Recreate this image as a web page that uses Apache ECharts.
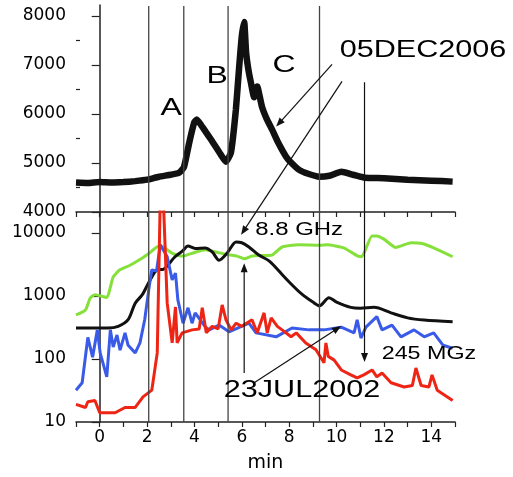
<!DOCTYPE html>
<html>
<head>
<meta charset="utf-8">
<script src="https://cdn.jsdelivr.net/npm/echarts@6/dist/echarts.min.js"></script>
<style>
  html, body { margin: 0; padding: 0; background: #fff; }
  #chart { width: 513px; height: 477px; }
</style>
</head>
<body>
<div id="chart"></div>
<script>
// Upper panel: 05DEC2006 flux profile (linear scale)
const topTime = [-1, -0.5, 0, 0.5, 1, 1.5, 2, 2.5, 3, 3.35, 3.56, 3.78, 3.99, 4.1, 4.3, 4.5, 4.7, 4.9, 5.1, 5.33, 5.54, 5.75, 5.88, 6.0, 6.1, 6.18, 6.28, 6.38, 6.52, 6.65, 6.85, 7.05, 7.28, 7.5, 7.87, 8.1, 8.42, 8.8, 9.26, 9.7, 10.2, 10.7, 11.2, 12, 13, 14, 14.9];
const topFlux = [4600, 4590, 4610, 4600, 4610, 4630, 4660, 4720, 4760, 4800, 4920, 5415, 5825, 5890, 5760, 5620, 5480, 5330, 5180, 5025, 5210, 6090, 6910, 7590, 7880, 7260, 6900, 6650, 6340, 6560, 6150, 5900, 5680, 5450, 5130, 5000, 4860, 4780, 4720, 4740, 4820, 4760, 4700, 4690, 4660, 4640, 4620];

// Lower panel (log scale): 23JUL2002 and 05DEC2006 curves
const greenTime = [-1, -0.6, -0.4, -0.2, 0.3, 0.45, 0.57, 0.85, 1.3, 1.8, 2.1, 2.47, 2.68, 3.05, 3.5, 4.0, 4.45, 4.9, 5.46, 5.8, 6.1, 6.43, 7.0, 7.3, 7.7, 8.4, 9.3, 9.6, 10.3, 10.9, 11.05, 11.2, 11.5, 11.7, 12.0, 12.5, 13.15, 13.6, 14.1, 14.9];
const greenFlux = [500, 600, 930, 1050, 950, 1380, 2000, 2600, 3100, 4000, 4800, 6100, 6000, 4800, 4300, 4900, 5400, 5000, 4500, 4300, 3900, 4300, 4400, 4500, 6000, 6500, 6400, 6500, 5800, 4300, 4200, 5200, 9000, 9000, 8000, 5900, 7000, 6800, 5800, 4200];

const blackTime = [-1, 0.35, 0.78, 1.2, 1.5, 1.8, 2.13, 2.43, 2.68, 3.18, 3.5, 3.73, 4.03, 4.45, 4.75, 5.04, 5.38, 5.76, 6.0, 6.3, 6.7, 7.15, 7.7, 8.0, 8.5, 9.0, 9.28, 9.68, 10.0, 10.6, 11.0, 11.58, 12.3, 13.0, 13.7, 14.9];
const blackFlux = [310, 310, 330, 420, 770, 1050, 1800, 2600, 2650, 4200, 5200, 6200, 5700, 5800, 5000, 3700, 4800, 7200, 7000, 6000, 4500, 3600, 2200, 1670, 1100, 800, 700, 940, 800, 660, 640, 660, 540, 450, 415, 390];

const blueTime = [-1, -0.74, -0.5, -0.3, -0.1, 0.02, 0.3, 0.45, 0.57, 0.73, 0.86, 1.07, 1.2, 1.5, 1.7, 1.9, 2.1, 2.2, 2.4, 2.56, 2.85, 3.06, 3.2, 3.3, 3.52, 3.73, 3.9, 4.03, 4.45, 4.62, 5.04, 5.46, 6.3, 6.6, 7.45, 8.12, 8.84, 9.47, 10.2, 10.74, 10.87, 11.03, 11.24, 11.7, 11.92, 12.34, 12.72, 13.27, 13.7, 14.1, 14.5, 14.9];
const blueFlux = [32, 42, 220, 107, 290, 125, 52, 290, 155, 240, 138, 260, 165, 125, 180, 420, 1500, 2600, 2500, 6500, 4200, 1800, 2300, 870, 370, 650, 370, 540, 325, 290, 345, 270, 370, 260, 225, 310, 290, 290, 320, 260, 420, 215, 320, 470, 290, 345, 225, 290, 225, 260, 165, 148];

const redTime = [-1, -0.6, -0.5, -0.2, 0.0, 0.65, 1.07, 1.5, 1.83, 2.2, 2.43, 2.56, 2.68, 2.85, 3.06, 3.2, 3.27, 3.48, 3.9, 4.2, 4.33, 4.5, 4.75, 5.0, 5.17, 5.33, 5.55, 5.76, 6.0, 6.43, 6.65, 6.94, 7.07, 7.24, 7.5, 7.7, 8.08, 8.3, 8.7, 9.13, 9.47, 9.55, 9.65, 9.9, 10.2, 10.6, 10.87, 11.15, 11.5, 11.7, 11.92, 12.3, 12.85, 13.2, 13.35, 13.57, 13.9, 14.03, 14.25, 14.9];
const redFlux = [19, 17, 21, 22, 14, 14, 17, 17, 25, 32, 125, 40000, 40000, 770, 180, 670, 180, 260, 290, 300, 650, 260, 330, 300, 720, 420, 290, 370, 330, 420, 260, 540, 260, 450, 330, 290, 225, 260, 180, 140, 87, 180, 110, 96, 67, 56, 50, 56, 67, 52, 60, 42, 36, 38, 72, 38, 36, 56, 32, 22];

// Axis ticks
const topTicks = [4000, 5000, 6000, 7000, 8000];
const topMinorTicks = [4500, 5500, 6500, 7500];
const logTicks = [10, 100, 1000, 10000];

// Event boundaries (min)
const boundaryTimes = [2.07, 3.55, 5.42, 9.28];

// Annotation arrows: [panel, time, value] -> [panel, time, value]
const arrows = [
  { from: [0, 9.81, 7015], to: [0, 7.45, 5744] },
  { from: [0, 10.23, 6667], to: [1, 5.97, 9370] },
  { from: [1, 6.52, 42], to: [1, 10.19, 333] },
  { from: [1, 6.1, 60], to: [1, 6.1, 3300] },
  { from: [0, 11.18, 6646], to: [1, 11.18, 90] }
];

// Text labels: [panel, time, value, text, font size]
const labels = [
  [0, 3.02, 6133, 'A', 24],
  [0, 4.96, 6790, 'B', 24],
  [0, 7.78, 7015, 'C', 24],
  [0, 13.65, 7323, '05DEC2006', 23],
  [1, 8.42, 11380, '8.8 GHz', 18],
  [1, 13.9, 124.5, '245 MGz', 17.5],
  [1, 8.54, 32.2, '23JUL2002', 23]
];

const zip = (t, v) => t.map((x, i) => [x, v[i]]);

const axisFont = { fontFamily: 'DejaVu Sans', fontSize: 17, color: '#000' };
const axisLine = { show: true, lineStyle: { color: '#222', width: 1.5 } };
const plain = v => String(v);

const chart = echarts.init(document.getElementById('chart'), null, { renderer: 'canvas' });

const xCommon = {
  type: 'value', min: -1, max: 15, interval: 1,
  axisLine: axisLine,
  splitLine: { show: false },
  axisTick: { show: true, length: 5, lineStyle: { color: '#222', width: 1.2 } }
};

chart.setOption({
  animation: false,
  backgroundColor: '#fff',
  grid: [
    { left: 76, right: 58, top: 5, height: 207 },
    { left: 76, right: 58, top: 212, height: 210 }
  ],
  xAxis: [
    Object.assign({}, xCommon, { gridIndex: 0, axisLabel: { show: false } }),
    Object.assign({}, xCommon, {
      gridIndex: 1,
      axisLabel: Object.assign({}, axisFont, {
        margin: 7,
        formatter: v => (v % 2 === 0 ? String(v) : '')
      }),
      name: 'min', nameLocation: 'middle', nameGap: 32,
      nameTextStyle: { fontFamily: 'DejaVu Sans', fontSize: 19, color: '#000' }
    })
  ],
  yAxis: [
    {
      type: 'value', gridIndex: 0, position: 'left', min: 4000, max: 8225, interval: 1000,
      axisLine: axisLine, splitLine: { show: false },
      axisTick: { show: true, length: 8, customValues: topTicks, lineStyle: { color: '#222', width: 1.2 } },
      axisLabel: Object.assign({}, axisFont, { margin: 10, customValues: topTicks, formatter: plain })
    },
    {
      type: 'log', logBase: 10, gridIndex: 1, position: 'left', min: 10, max: 21544,
      axisLine: axisLine, splitLine: { show: false },
      axisTick: { show: true, length: 8, customValues: logTicks, lineStyle: { color: '#222', width: 1.2 } },
      axisLabel: Object.assign({}, axisFont, { margin: 10, customValues: logTicks, formatter: plain })
    },
    {
      type: 'value', gridIndex: 0, position: 'left', offset: 0, min: 4000, max: 8225, interval: 500,
      axisLine: { show: false }, splitLine: { show: false },
      axisLabel: { show: false },
      axisTick: { show: true, inside: true, length: 4, customValues: topMinorTicks, lineStyle: { color: '#222', width: 1.2 } }
    }
  ],
  series: [
    {
      name: '05DEC2006 total', type: 'line', xAxisIndex: 0, yAxisIndex: 0,
      data: zip(topTime, topFlux), showSymbol: false, smooth: 0.15,
      lineStyle: { color: '#111', width: 6.5 }, z: 3
    },
    {
      name: '8.8 GHz', type: 'line', xAxisIndex: 1, yAxisIndex: 1,
      data: zip(greenTime, greenFlux), showSymbol: false, smooth: 0.2,
      lineStyle: { color: '#86e03c', width: 3 }
    },
    {
      name: '05DEC2006', type: 'line', xAxisIndex: 1, yAxisIndex: 1,
      data: zip(blackTime, blackFlux), showSymbol: false, smooth: 0.3,
      lineStyle: { color: '#111', width: 3 }
    },
    {
      name: '245 MHz', type: 'line', xAxisIndex: 1, yAxisIndex: 1,
      data: zip(blueTime, blueFlux), showSymbol: false,
      lineStyle: { color: '#3a5ae8', width: 3 }
    },
    {
      name: '23JUL2002', type: 'line', xAxisIndex: 1, yAxisIndex: 1,
      data: zip(redTime, redFlux), showSymbol: false, clip: true,
      lineStyle: { color: '#ee2414', width: 3 }
    }
  ]
});

function px(panel, t, v) {
  return chart.convertToPixel({ xAxisIndex: panel, yAxisIndex: panel }, [t, v]);
}

const elements = [];

// Vertical boundary lines spanning both panels
boundaryTimes.forEach(t => {
  const a = px(0, t, 8205);
  const b = px(1, t, 10);
  elements.push({
    type: 'line', silent: true, z: 10,
    shape: { x1: a[0], y1: a[1], x2: b[0], y2: b[1] },
    style: { stroke: '#444', lineWidth: 1.3 }
  });
});

// Arrows
arrows.forEach(ar => {
  const p0 = px(ar.from[0], ar.from[1], ar.from[2]);
  const p1 = px(ar.to[0], ar.to[1], ar.to[2]);
  const dx = p1[0] - p0[0], dy = p1[1] - p0[1];
  const L = Math.hypot(dx, dy), ux = dx / L, uy = dy / L;
  const len = 9, w = 3.5;
  const bx = p1[0] - ux * len, by = p1[1] - uy * len;
  elements.push({
    type: 'line', silent: true, z: 10,
    shape: { x1: p0[0], y1: p0[1], x2: bx + ux * 2, y2: by + uy * 2 },
    style: { stroke: '#111', lineWidth: 1.2 }
  });
  elements.push({
    type: 'polygon', silent: true, z: 10,
    shape: { points: [[p1[0], p1[1]], [bx - uy * w, by + ux * w], [bx + uy * w, by - ux * w]] },
    style: { fill: '#111' }
  });
});

// Text labels
labels.forEach(l => {
  const p = px(l[0], l[1], l[2]);
  elements.push({
    type: 'text', silent: true, z: 11,
    x: p[0], y: p[1] + 1, scaleX: 1.33,
    style: {
      text: l[3], font: l[4] + 'px "Liberation Sans"', fill: '#000',
      align: 'center', verticalAlign: 'middle',
      textAlign: 'center', textVerticalAlign: 'middle'
    }
  });
});

chart.setOption({ graphic: { elements: elements } });
</script>
</body>
</html>
